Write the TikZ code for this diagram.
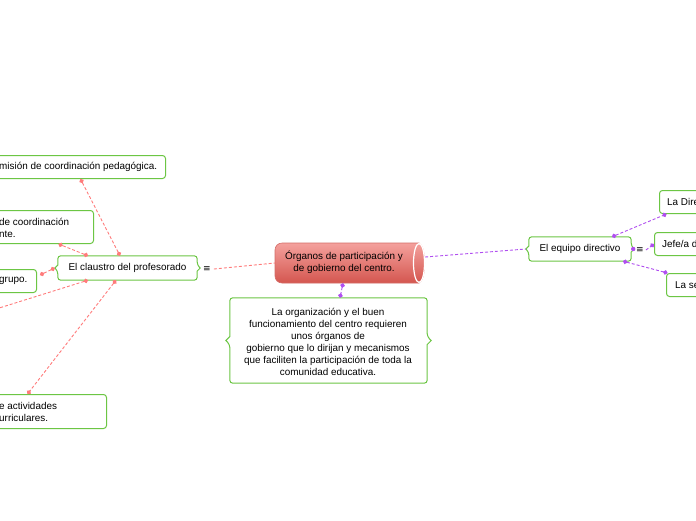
\documentclass[tikz,border=0pt]{standalone}
\usepackage{fontspec}
\setmainfont{Liberation Sans}
\newfontfamily\symf{DejaVu Sans}
\usetikzlibrary{calc,arrows.meta}
\definecolor{gcol}{HTML}{6CC644}
\definecolor{redl}{HTML}{FF7B7B}
\definecolor{purl}{HTML}{B04EF0}
\definecolor{cyltop}{HTML}{F4A19D}
\definecolor{cylbot}{HTML}{D4564F}
\definecolor{cylbord}{HTML}{D46C67}
\newcommand\notchbox[3]{%
  \draw[gcol, line width=1pt, rounded corners=3pt]
    (#1.north west) -- (#1.north east) -- ([yshift=#3]#1.east)
    [sharp corners] -- ([xshift=#2]#1.east) -- ([yshift=-#3]#1.east)
    [rounded corners=3pt] -- (#1.south east) -- (#1.south west) -- ([yshift=-#3]#1.west)
    [sharp corners] -- ([xshift=-#2]#1.west) -- ([yshift=#3]#1.west)
    [rounded corners=3pt] -- cycle;}
\begin{document}
\begin{tikzpicture}[x=1pt,y=-1pt,
  font=\fontsize{9.9}{12}\selectfont,
  box/.style={draw=gcol, line width=1pt, rounded corners=3pt, fill=white, inner sep=0pt},
  plain/.style={inner sep=0pt},
  txt/.style={inner sep=0pt, align=left, anchor=west},
  dots/.style={{Circle[length=4.5pt,width=4.5pt]}-{Circle[length=4.5pt,width=4.5pt]}},
  rline/.style={redl, line width=0.9pt, dash pattern=on 3pt off 2pt, dots},
  rline0/.style={redl, line width=0.9pt, dash pattern=on 3pt off 2pt},
  pline/.style={purl, line width=0.9pt, dash pattern=on 3pt off 2pt, dots},
  pline0/.style={purl, line width=0.9pt, dash pattern=on 3pt off 2pt},
  eqs/.style={inner sep=0pt, font=\symf\fontsize{9}{10}\selectfont}
]
\useasboundingbox (0,0) rectangle (696,520);
\fill[white] (0,0) rectangle (696,520);

% ---- central cylinder ----
\node[plain, minimum width=150pt, minimum height=40pt] (c) at (350,263) {};
\shade[top color=cyltop, bottom color=cylbot, draw=cylbord, line width=0.6pt, rounded corners=7pt]
  (419,243) -- (275,243) -- (275,283) [sharp corners] -- (419,283) -- cycle;
\shade[top color=cyltop, bottom color=cylbot] (419,263) ellipse[x radius=6, y radius=20];
\draw[white, line width=1.2pt] (419,263) ellipse[x radius=5.5, y radius=19.5];
\node[plain, align=center] (ct) at (344,262) {Órganos de participación y\\de gobierno del centro.};

% ---- description ----
\node[plain, fill=white, minimum width=197pt, minimum height=85pt] (d) at (328.5,340.5) {};
\notchbox{d}{4pt}{4pt}
\node[plain, align=center] (dt) at (328,342) {La organización y el buen\\funcionamiento del centro requieren\\unos órganos de\\gobierno que lo dirijan y mecanismos\\que faciliten la participación de toda la\\comunidad educativa.};

% ---- claustro ----
\node[plain, fill=white, minimum width=139pt, minimum height=24pt] (cl) at (127.5,268) {El claustro del profesorado};
\notchbox{cl}{3pt}{3pt}
\node[eqs] (eq1) at (207,269) {≡};

% ---- left children (cut by the page edge) ----
\node[box, minimum width=205pt, minimum height=23pt, anchor=north west] (b1) at (-40,155) {};
\node[txt] (b1t) at (-1,167) {misión de coordinación pedagógica.};
\node[box, minimum width=133pt, minimum height=33pt, anchor=north west] (b2) at (-40,210) {};
\node[txt] (b2t) at (-1,227.5) {de coordinación\\nte.};
\node[box, minimum width=76pt, minimum height=23pt, anchor=north west] (b3) at (-40,269) {};
\node[txt] (b3t) at (-1,281) {grupo.};
\node[box, minimum width=146pt, minimum height=34pt, anchor=north west] (b4) at (-40,394) {};
\node[txt] (b4t) at (-1,411.5) {e actividades\\urriculares.};
\coordinate (off) at (-20,314);

% ---- equipo directivo ----
\node[plain, fill=white, minimum width=102pt, minimum height=24pt] (eqd) at (580,249) {El equipo directivo};
\notchbox{eqd}{3pt}{3pt}
\node[eqs] (eq2) at (640,250) {≡};

\node[box, minimum width=81pt, minimum height=23pt, anchor=north west] (r1) at (659,190) {};
\node[txt] (r1t) at (667,202) {La Dire};
\node[box, minimum width=86pt, minimum height=23pt, anchor=north west] (r2) at (654,232) {};
\node[txt] (r2t) at (662,244) {Jefe/a d};
\node[box, minimum width=74pt, minimum height=23pt, anchor=north west] (r3) at (666,273) {};
\node[txt] (r3t) at (675,285) {La se};

% ---- connectors ----
\draw[rline0] (eq1.east) ++(3,0) -- (c.west);
\draw[rline] ([xshift=-7.5pt]cl.north) -- ([xshift=17.5pt]b1.south);
\draw[rline] ([xshift=-39.5pt]cl.north) -- ([xshift=31.5pt]b2.south);
\draw[rline] ([xshift=-3pt]cl.west) -- ([xshift=3pt,yshift=6pt]b3.east);
\draw[rline] ([xshift=-39.5pt]cl.south) -- (off);
\draw[rline] ([xshift=-11.5pt]cl.south) -- ([xshift=-6pt]b4.north);

\draw[pline] ([xshift=-7pt]c.south) -- ([xshift=11.5pt]d.north);
\draw[pline0] ([yshift=6pt]c.east) -- ([xshift=-3pt]eqd.west);
\draw[pline] ([xshift=32pt]eqd.north) -- ([xshift=-33.5pt]r1.south);
\draw[pline] ([xshift=43pt]eqd.south) -- ([xshift=-36pt]r3.north);
\fill[purl] ([xshift=2pt]eqd.east) circle[radius=2.2];
\draw[pline0, -{Circle[length=4.5pt,width=4.5pt]}] (eq2.east) ++(2,0) -- (r2.west);
\end{tikzpicture}
\end{document}
